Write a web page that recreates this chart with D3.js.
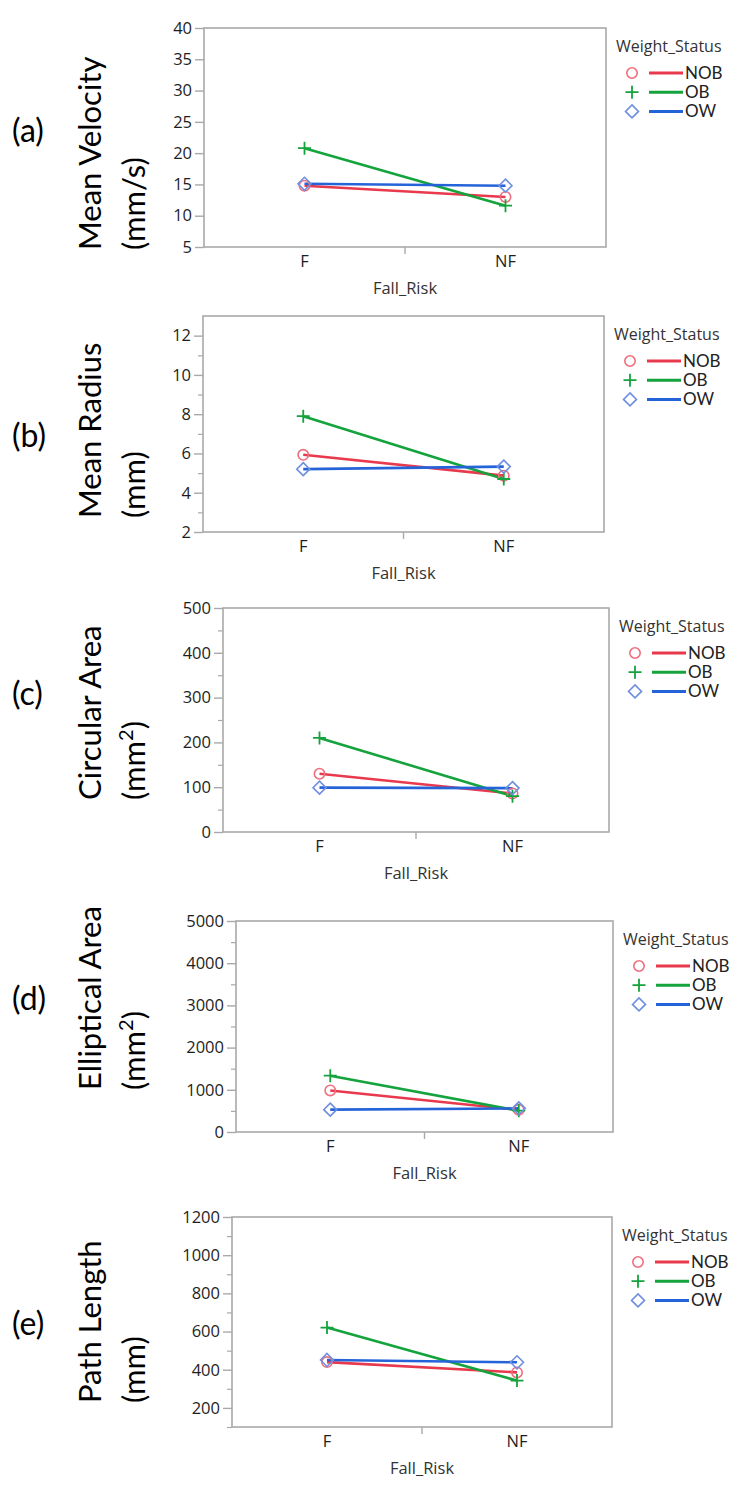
<!DOCTYPE html>
<html>
<head>
<meta charset="utf-8">
<script src="https://cdn.jsdelivr.net/npm/d3@7"></script>
<style>
  html, body { margin: 0; padding: 0; background: #fff; }
  svg { display: block; }
</style>
</head>
<body>
<svg id="chart" width="751" height="1490"></svg>
<script>
// ---------------- DATA ----------------
const fallRisk = ["F", "NF"];
const weightStatus = ["NOB", "OB", "OW"];

// (a) Mean Velocity (mm/s)
const velNOB = [14.8, 13.0];
const velOB  = [20.8, 11.6];
const velOW  = [15.1, 14.8];
const velTicks = [5, 10, 15, 20, 25, 30, 35, 40];

// (b) Mean Radius (mm)
const radNOB = [5.93, 4.87];
const radOB  = [7.9, 4.7];
const radOW  = [5.2, 5.33];
const radTicks = [2, 4, 6, 8, 10, 12];
const radMinor = [3, 5, 7, 9, 11];

// (c) Circular Area (mm2)
const circNOB = [130, 86];
const circOB  = [210, 80];
const circOW  = [99, 98];
const circTicks = [0, 100, 200, 300, 400, 500];
const circMinor = [50, 150, 250, 350, 450];

// (d) Elliptical Area (mm2)
const ellNOB = [985, 525];
const ellOB  = [1335, 505];
const ellOW  = [530, 560];
const ellTicks = [0, 1000, 2000, 3000, 4000, 5000];
const ellMinor = [500, 1500, 2500, 3500, 4500];

// (e) Path Length (mm)
const pathNOB = [440, 386];
const pathOB  = [621, 343];
const pathOW  = [451, 439];
const pathTicks = [200, 400, 600, 800, 1000, 1200];
const pathMinor = [100, 300, 500, 700, 900, 1100];

// ---------------- STYLE ----------------
const lineColor = { NOB: "#e8394d", OB: "#14a33c", OW: "#2563d8" };
const markColor = { NOB: "#ef6f7e", OB: "#14a33c", OW: "#6f8fe0" };
const uiFont = "'Open Sans', 'Noto Sans', sans-serif";
const legFont = "Lato, 'Open Sans', sans-serif";
const bigFont = "Lato, 'Open Sans', sans-serif";
const frameColor = "#a9a9a9";

const panels = [
  { tag: "(a)", title: ["Mean Velocity", "(mm/s)"], sup: false,
    series: { NOB: velNOB, OB: velOB, OW: velOW }, ticks: velTicks, minor: [],
    domain: [5, 40], box: [204, 28, 606, 247], tagY: 132, rotStart: 250 },
  { tag: "(b)", title: ["Mean Radius", "(mm)"], sup: false,
    series: { NOB: radNOB, OB: radOB, OW: radOW }, ticks: radTicks, minor: radMinor,
    domain: [2, 13], box: [203, 316, 604, 532], tagY: 437, rotStart: 518 },
  { tag: "(c)", title: ["Circular Area", "(mm"], sup: true,
    series: { NOB: circNOB, OB: circOB, OW: circOW }, ticks: circTicks, minor: circMinor,
    domain: [0, 500], box: [223, 608, 609, 832], tagY: 695, rotStart: 800 },
  { tag: "(d)", title: ["Elliptical Area", "(mm"], sup: true,
    series: { NOB: ellNOB, OB: ellOB, OW: ellOW }, ticks: ellTicks, minor: ellMinor,
    domain: [0, 5000], box: [236, 921, 613, 1132], tagY: 1000, rotStart: 1090 },
  { tag: "(e)", title: ["Path Length", "(mm)"], sup: false,
    series: { NOB: pathNOB, OB: pathOB, OW: pathOW }, ticks: pathTicks, minor: pathMinor,
    domain: [100, 1200], box: [232, 1217, 612, 1427], tagY: 1325, rotStart: 1403 }
];

const svg = d3.select("#chart");

function drawMarker(g, key, x, y) {
  const c = markColor[key];
  if (key === "NOB") {
    g.append("circle").attr("cx", x).attr("cy", y).attr("r", 5.2)
      .attr("fill", "none").attr("stroke", c).attr("stroke-width", 1.6);
  } else if (key === "OB") {
    const s = 6.5;
    g.append("path").attr("d", `M${x - s},${y}H${x + s}M${x},${y - s}V${y + s}`)
      .attr("stroke", c).attr("stroke-width", 1.8).attr("fill", "none");
  } else {
    const s = 6.5;
    g.append("path").attr("d", `M${x},${y - s}L${x + s},${y}L${x},${y + s}L${x - s},${y}Z`)
      .attr("stroke", c).attr("stroke-width", 1.6).attr("fill", "none");
  }
}

panels.forEach(p => {
  const [L, T, R, B] = p.box;
  const g = svg.append("g");

  const x = d3.scaleBand().domain(fallRisk).range([L, R]);
  const y = d3.scaleLinear().domain(p.domain).range([B, T]);

  // frame
  g.append("rect").attr("x", L).attr("y", T).attr("width", R - L).attr("height", B - T)
    .attr("fill", "none").attr("stroke", frameColor).attr("stroke-width", 1.6);

  // y axis (major)
  const yAxis = d3.axisLeft(y).tickValues(p.ticks).tickSize(9).tickPadding(3)
    .tickFormat(d3.format("d"));
  const ya = g.append("g").attr("transform", `translate(${L},0)`).call(yAxis);
  ya.select(".domain").remove();
  ya.selectAll(".tick line").attr("stroke", frameColor).attr("stroke-width", 1.4);
  ya.selectAll(".tick text").attr("fill", "#1e1e1e").style("font-family", uiFont)
    .style("font-size", "16.5px");

  // y axis (minor)
  if (p.minor.length) {
    const ym = g.append("g").attr("transform", `translate(${L},0)`)
      .call(d3.axisLeft(y).tickValues(p.minor).tickSize(5).tickFormat(""));
    ym.select(".domain").remove();
    ym.selectAll(".tick line").attr("stroke", frameColor).attr("stroke-width", 1.2);
  }

  // x axis: labels at band centres, tick at band boundary
  fallRisk.forEach(c => {
    g.append("text").attr("x", x(c) + x.bandwidth() / 2).attr("y", B + 20)
      .attr("text-anchor", "middle").attr("fill", "#1e1e1e")
      .style("font-family", uiFont).style("font-size", "16.5px").text(c);
  });
  g.append("line").attr("x1", x("NF")).attr("x2", x("NF")).attr("y1", B).attr("y2", B + 7)
    .attr("stroke", frameColor).attr("stroke-width", 1.4);
  g.append("text").attr("x", (L + R) / 2).attr("y", B + 47).attr("text-anchor", "middle")
    .attr("fill", "#333").style("font-family", uiFont).style("font-size", "16.5px")
    .text("Fall_Risk");

  // lines + markers
  const line = d3.line().x((d, i) => x(fallRisk[i]) + x.bandwidth() / 2).y(d => y(d));
  weightStatus.forEach(k => {
    g.append("path").datum(p.series[k]).attr("d", line)
      .attr("fill", "none").attr("stroke", lineColor[k]).attr("stroke-width", 2.6);
  });
  weightStatus.forEach(k => {
    p.series[k].forEach((v, i) => {
      drawMarker(g, k, x(fallRisk[i]) + x.bandwidth() / 2, y(v));
    });
  });

  // legend
  const lx = R + 10;
  g.append("text").attr("x", lx).attr("y", T + 24).attr("fill", "#333")
    .style("font-family", uiFont).style("font-size", "16px").text("Weight_Status");
  weightStatus.forEach((k, i) => {
    const cy = T + 45 + i * 19.2;
    drawMarker(g, k, R + 26, cy);
    g.append("line").attr("x1", R + 43).attr("x2", R + 77).attr("y1", cy).attr("y2", cy)
      .attr("stroke", lineColor[k]).attr("stroke-width", 3);
    g.append("text").attr("x", R + 79).attr("y", cy + 6).attr("fill", "#222")
      .style("font-family", legFont).style("font-size", "17px").text(k);
  });

  // left panel tag
  svg.append("text").attr("x", 12).attr("y", p.tagY + 10).attr("fill", "#000")
    .style("font-family", bigFont).style("font-size", "32px").text(p.tag);

  // rotated titles
  svg.append("text").attr("transform", `translate(101,${p.rotStart}) rotate(-90)`)
    .attr("fill", "#000").style("font-family", bigFont).style("font-size", "31px")
    .text(p.title[0]);
  const t2 = svg.append("text").attr("transform", `translate(145,${p.rotStart}) rotate(-90)`)
    .attr("fill", "#000").style("font-family", bigFont).style("font-size", "31px");
  if (p.sup) {
    t2.append("tspan").text(p.title[1]);
    t2.append("tspan").attr("dy", -12).style("font-size", "20px").text("2");
    t2.append("tspan").attr("dy", 12).text(")");
  } else {
    t2.text(p.title[1]);
  }
});
</script>
</body>
</html>
